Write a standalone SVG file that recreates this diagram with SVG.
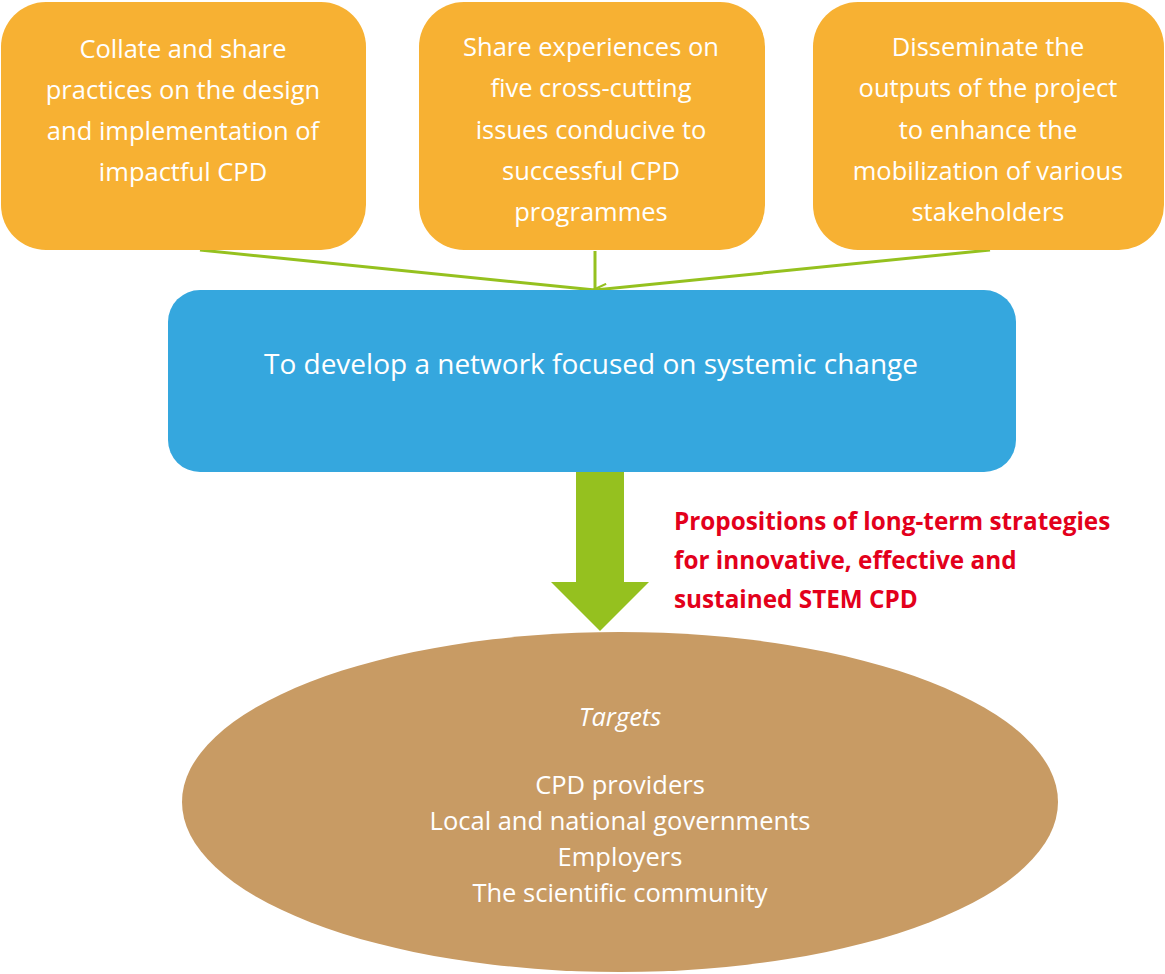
<svg xmlns="http://www.w3.org/2000/svg" width="1165" height="974" viewBox="0 0 1165 974">
<defs>
<style>
.box{fill:#F7B133}
.t{font-family:"Open Sans","Noto Sans",sans-serif;fill:#fff;text-anchor:middle}
.bt{font-size:25.5px}
.conn{stroke:#95C11F;stroke-width:3;fill:none}
.red{font-family:"Open Sans","Noto Sans",sans-serif;font-weight:bold;fill:#E3001B;font-size:24.3px}
</style>
<marker id="ah" markerWidth="12" markerHeight="16" refX="7" refY="14" orient="auto-start-reverse" markerUnits="userSpaceOnUse" viewBox="0 0 14 16">
<path d="M1 1 L7 14 L13 1" fill="none" stroke="#95C11F" stroke-width="2.5"/>
</marker>
</defs>
<rect width="1165" height="974" fill="#fff"/>
<g id="connectors">
<line class="conn" x1="200" y1="250" x2="595" y2="290"/>
<line class="conn" x1="990" y1="250" x2="595" y2="290"/>
<line class="conn" x1="595" y1="251" x2="595" y2="289" marker-end="url(#ah)"/>
<path d="M576 472 H624 V582 H649 L600 631 L551 582 H576 Z" fill="#95C11F"/>
</g>
<g id="box1">
<rect class="box" x="1" y="2" width="365" height="248" rx="45"/>
<text class="t bt"><tspan x="183" y="58">Collate and share</tspan><tspan x="183" y="99">practices on the design</tspan><tspan x="183" y="140">and implementation of</tspan><tspan x="183" y="181">impactful CPD</tspan></text>
</g>
<g id="box2">
<rect class="box" x="419" y="2" width="346" height="248" rx="45"/>
<text class="t bt"><tspan x="591" y="56">Share experiences on</tspan><tspan x="591" y="97">five cross-cutting</tspan><tspan x="591" y="139">issues conducive to</tspan><tspan x="591" y="180">successful CPD</tspan><tspan x="591" y="221">programmes</tspan></text>
</g>
<g id="box3">
<rect class="box" x="813" y="2" width="351" height="248" rx="45"/>
<text class="t bt"><tspan x="988" y="56">Disseminate the</tspan><tspan x="988" y="97">outputs of the project</tspan><tspan x="988" y="139">to enhance the</tspan><tspan x="988" y="180">mobilization of various</tspan><tspan x="988" y="221">stakeholders</tspan></text>
</g>
<g id="network">
<rect x="168" y="290" width="848" height="182" rx="32" fill="#35A7DE"/>
<text class="t" x="591" y="374" font-size="28">To develop a network focused on systemic change</text>
</g>
<g id="propositions">
<text class="red"><tspan x="674" y="530">Propositions of long-term strategies</tspan><tspan x="674" y="569">for innovative, effective and</tspan><tspan x="674" y="608">sustained STEM CPD</tspan></text>
</g>
<g id="targets">
<ellipse cx="620" cy="802" rx="438" ry="170" fill="#C89B64"/>
<text class="t bt" x="620" y="726" font-style="italic">Targets</text>
<text class="t bt"><tspan x="620" y="794">CPD providers</tspan><tspan x="620" y="830">Local and national governments</tspan><tspan x="620" y="866">Employers</tspan><tspan x="620" y="902">The scientific community</tspan></text>
</g>
</svg>
